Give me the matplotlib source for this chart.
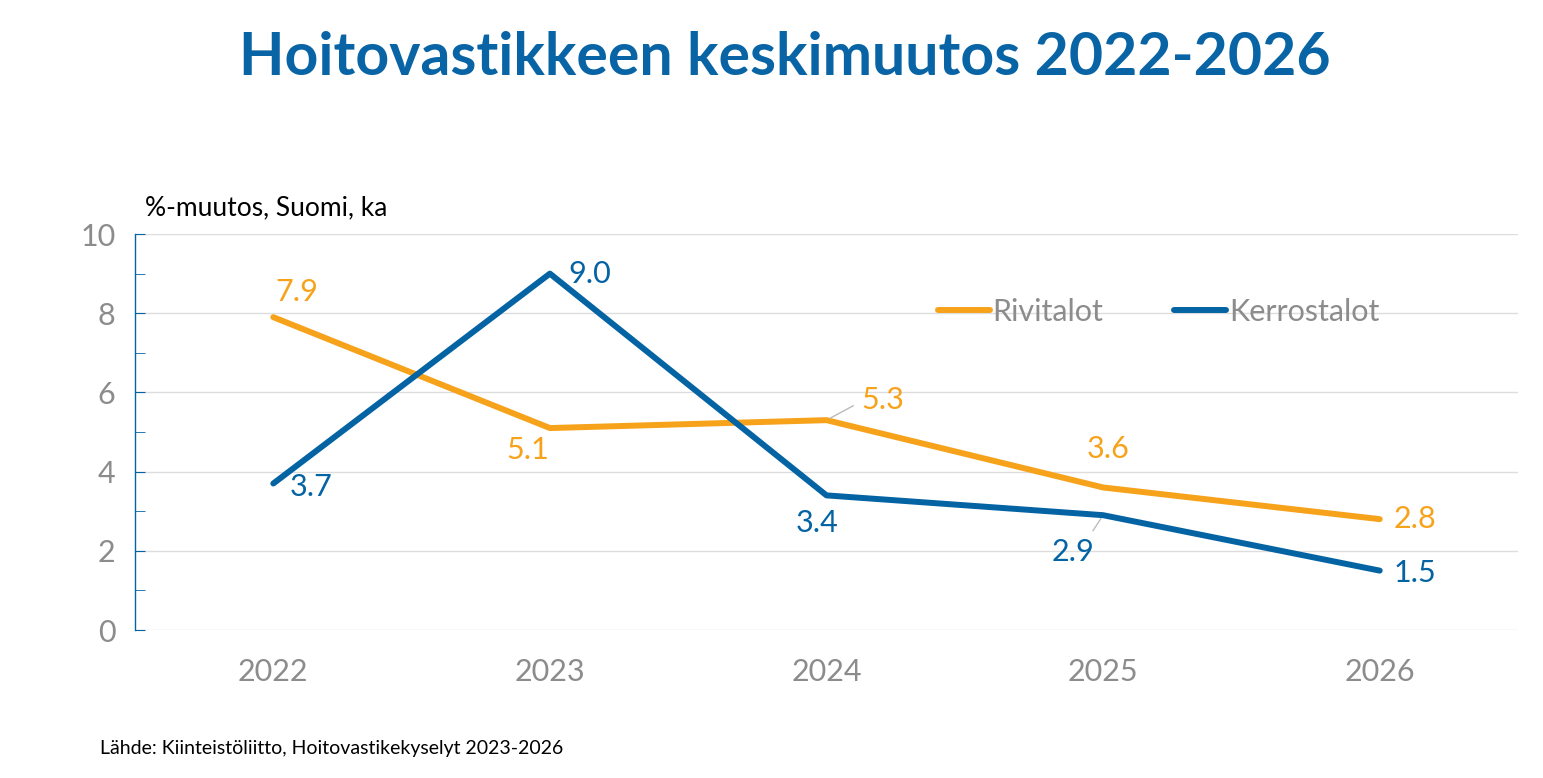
import matplotlib
matplotlib.use("Agg")
import matplotlib.pyplot as plt

plt.rcParams['font.family'] = ['Lato', 'DejaVu Sans']

years = ["2022", "2023", "2024", "2025", "2026"]
rivitalot = [7.9, 5.1, 5.3, 3.6, 2.8]
kerrostalot = [3.7, 9.0, 3.4, 2.9, 1.5]

orange = "#F7A21B"
blue = "#0463A3"
grey = "#8C8C8C"

# label offsets in pixels (dx, dy); leader = relpos on the text box or None
r_offsets = [(24, 25), (-22, -22), (56, 20), (5, 38), (35, 0)]
k_offsets = [(38, -3), (40, 0), (-9, -28), (-30, -37), (35, -2)]
r_leader = [None, None, (0.0, 0.45), None, None]
k_leader = [None, None, None, (0.85, 1.0), None]

fig = plt.figure(figsize=(15.43, 7.78), dpi=100)
ax = fig.add_axes([0.0875, 0.1902, 0.8963, 0.509])

x = list(range(len(years)))
ax.plot(x, rivitalot, color=orange, linewidth=4.3, label="Rivitalot", solid_capstyle='round')
ax.plot(x, kerrostalot, color=blue, linewidth=4.3, label="Kerrostalot", solid_capstyle='round')

ax.set_xlim(-0.5, 4.5)
ax.set_ylim(0, 10)
ax.set_xticks(x)
ax.set_xticklabels(years)
ax.set_yticks(range(0, 11, 2))
ax.set_yticks(range(1, 10, 2), minor=True)

for s in ["top", "right", "bottom"]:
    ax.spines[s].set_visible(False)
ax.spines["left"].set_color(blue)
ax.spines["left"].set_linewidth(1)
ax.tick_params(axis='y', which='both', direction='in', length=7, color=blue,
               labelsize=22, labelcolor=grey, pad=14)
ax.tick_params(axis='x', length=0, labelsize=22, labelcolor=grey, pad=20)
ax.grid(axis='y', color="#DDDDDD", linewidth=1)
ax.set_axisbelow(True)


def add_labels(vals, offsets, leaders, color):
    for i, v in enumerate(vals):
        dx, dy = offsets[i]
        props = None
        if leaders[i] is not None:
            props = dict(arrowstyle='-', color="#BBBBBB", lw=1, shrinkA=4, shrinkB=3,
                         relpos=leaders[i])
        ax.annotate(f"{v:.1f}", (i, v), xytext=(dx, dy), textcoords='offset pixels',
                    ha='center', va='center', fontsize=22, color=color,
                    arrowprops=props)


add_labels(rivitalot, r_offsets, r_leader, orange)
add_labels(kerrostalot, k_offsets, k_leader, blue)

leg = ax.legend(loc='center', bbox_to_anchor=(0.74, 0.803), ncol=2, frameon=False,
                fontsize=22, handlelength=1.7, handletextpad=0.1, columnspacing=2.3,
                labelcolor=grey)

fig.text(0.5085, 0.925, "Hoitovastikkeen keskimuutos 2022-2026", ha='center', va='center',
         fontsize=42.5, fontweight='bold', color="#0864A5")
fig.text(0.094, 0.733, "%-muutos, Suomi, ka", ha='left', va='center', fontsize=19, color="black")
fig.text(0.065, 0.038, "Lähde: Kiinteistöliitto, Hoitovastikekyselyt 2023-2026", ha='left',
         va='center', fontsize=14, color="black")

fig.savefig("out.png", dpi=100, facecolor="white")
